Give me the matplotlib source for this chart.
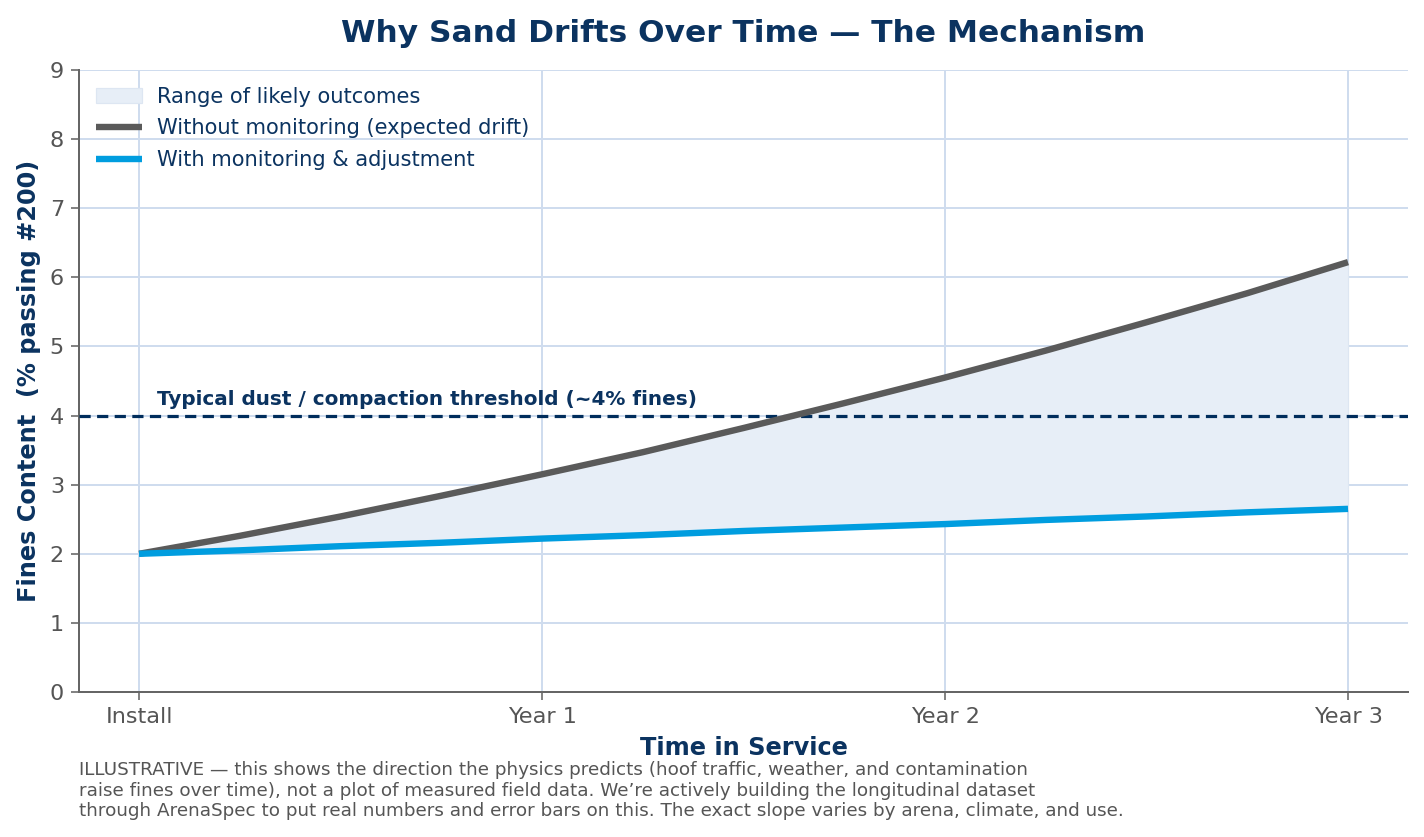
import matplotlib
matplotlib.use("Agg")
import matplotlib.pyplot as plt

# Data
years = [0.0, 0.25, 0.5, 0.75, 1.0, 1.25, 1.5, 1.75, 2.0, 2.25, 2.5, 2.75, 3.0]
without_monitoring = [2.00, 2.26, 2.54, 2.84, 3.15, 3.47, 3.82, 4.18, 4.55, 4.94, 5.35, 5.77, 6.22]
with_monitoring = [2.00, 2.05, 2.11, 2.16, 2.22, 2.27, 2.33, 2.38, 2.43, 2.49, 2.54, 2.60, 2.65]
tick_pos = [0, 1, 2, 3]
tick_labels = ["Install", "Year 1", "Year 2", "Year 3"]
threshold = 4.0

NAVY = "#0b3360"
GREY = "#555555"
GRID = "#cfdcee"

fig = plt.figure(figsize=(1424 / 144, 837 / 144), dpi=144)
ax = fig.add_axes([0.0555, 0.1732, 0.9333, 0.7432])

ax.fill_between(years, with_monitoring, without_monitoring, color="#e7eef7",
                edgecolor="#dde6f2", linewidth=0.6, label="Range of likely outcomes", zorder=2)
ax.plot(years, without_monitoring, color="#5a5a5a", lw=3.2, solid_capstyle="butt",
        label="Without monitoring (expected drift)", zorder=4)
ax.plot(years, with_monitoring, color="#009ddf", lw=3.2, solid_capstyle="butt",
        label="With monitoring & adjustment", zorder=4)
ax.axhline(threshold, color="#002d5c", lw=1.6, ls=(0, (3.5, 2)), zorder=3)
ax.text(0.045, threshold + 0.1, "Typical dust / compaction threshold (~4% fines)",
        fontsize=10, fontweight="bold", color=NAVY, ha="left", va="bottom", zorder=5)

ax.set_xlim(-0.149, 3.149)
ax.set_ylim(0, 9)
ax.set_xticks(tick_pos)
ax.set_xticklabels(tick_labels)
ax.set_yticks(range(0, 10))
ax.grid(True, color=GRID, lw=1.0, zorder=0)
ax.set_axisbelow(True)
for s in ["top", "right"]:
    ax.spines[s].set_visible(False)
for s in ["left", "bottom"]:
    ax.spines[s].set_color("#666666")
    ax.spines[s].set_linewidth(1.0)
ax.tick_params(colors="#666666", labelcolor=GREY, labelsize=11.2, length=4)

ax.set_xlabel("Time in Service", fontsize=12, fontweight="bold", color=NAVY, labelpad=4.5)
ax.set_ylabel("Fines Content  (% passing #200)", fontsize=12, fontweight="bold", color=NAVY, labelpad=4.5)
ax.set_title("Why Sand Drifts Over Time \u2014 The Mechanism", fontsize=15.6, fontweight="bold",
             color=NAVY, pad=14)

leg = ax.legend(loc="upper left", frameon=False, fontsize=10.5, handlelength=2.2,
                borderaxespad=0.4, labelspacing=0.55, handletextpad=0.7,
                bbox_to_anchor=(0.0, 1.0))
for t in leg.get_texts():
    t.set_color(NAVY)

fig.text(0.0555, 0.091,
         "ILLUSTRATIVE \u2014 this shows the direction the physics predicts (hoof traffic, weather, and contamination\n"
         "raise fines over time), not a plot of measured field data. We\u2019re actively building the longitudinal dataset\n"
         "through ArenaSpec to put real numbers and error bars on this. The exact slope varies by arena, climate, and use.",
         fontsize=9.2, color=GREY, ha="left", va="top", linespacing=1.2)

fig.savefig("out.png", dpi=144)
